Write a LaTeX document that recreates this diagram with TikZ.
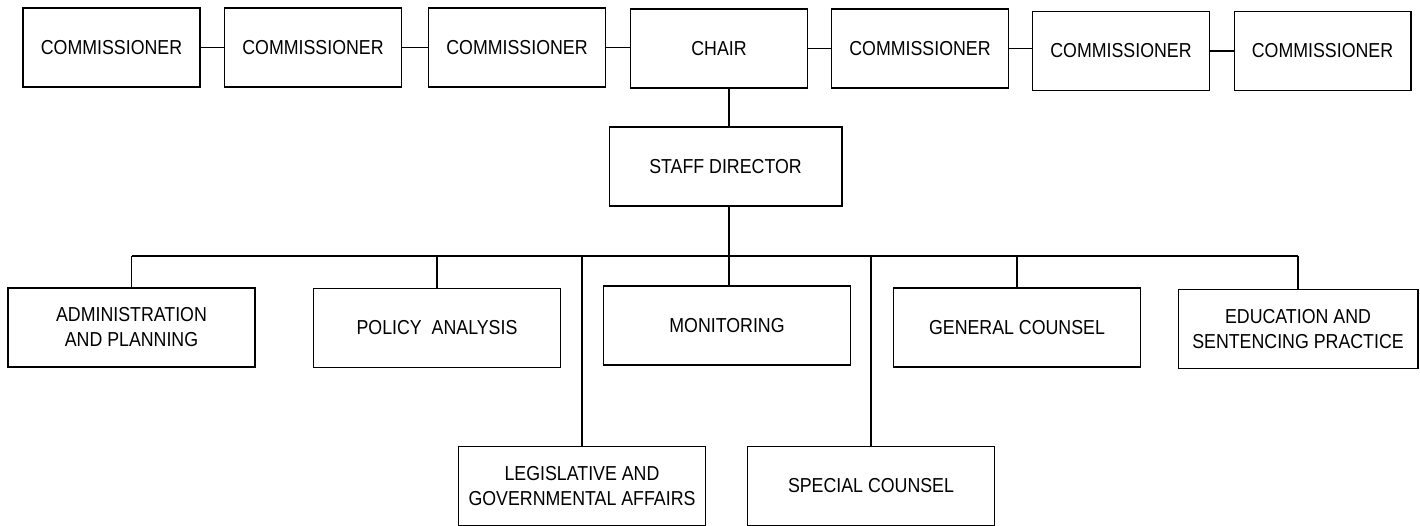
\documentclass[tikz,border=0pt]{standalone}
\usepackage{fontspec}
\setmainfont{Liberation Sans}[FakeStretch=0.88]
\begin{document}
\begin{tikzpicture}[
        x = 0.02cm, y = -0.02cm,
        post/.style = {
            draw, line width = 0.6pt,
            rectangle,
            inner sep = 0pt,
            text = black,
            minimum width = 3.54cm,
            minimum height = 1.58cm,
            align = center,
            font = \fontsize{11.5}{14.2}\selectfont,
        },
        office/.style = {
            post,
            minimum width = 4.94cm,
        },
        link/.style = {draw, line width = 0.6pt},
        tree/.style = {draw, line width = 1.1pt},
    ]
    \useasboundingbox (0,0) rectangle (1420,526);

    \node[post] (c1)    at ( 111.5, 47.5) {COMMISSIONER};
    \node[post] (c2)    at ( 313,   47.5) {COMMISSIONER};
    \node[post] (c3)    at ( 517,   47.5) {COMMISSIONER};
    \node[post] (chair) at ( 719,   48.5) {CHAIR};
    \node[post] (c5)    at ( 920,   48.5) {COMMISSIONER};
    \node[post] (c6)    at (1121,   51)   {COMMISSIONER};
    \node[post] (c7)    at (1322.5, 51)   {COMMISSIONER};

    \node[post,minimum width=4.66cm] (staff) at (725.5, 166.5) {STAFF DIRECTOR};

    \node[office] (admin)  at ( 131.5, 327.5) {ADMINISTRATION\\AND PLANNING};
    \node[office] (policy) at ( 437,   328)   {POLICY\ \ ANALYSIS};
    \node[office] (mon)    at ( 727,   325.5) {MONITORING};
    \node[office] (gen)    at (1017,   327.5) {GENERAL COUNSEL};
    \node[office,minimum width=4.8cm] (edu) at (1298, 329) {EDUCATION AND\\SENTENCING PRACTICE};

    \node[office] (leg)  at (582, 486) {LEGISLATIVE AND\\GOVERNMENTAL AFFAIRS};
    \node[office] (spec) at (871, 486) {SPECIAL COUNSEL};

    \coordinate (trunk) at (729, 256);

    \path[link] (c1.east) -- (c1.east -| c2.west)
        (c2.east) -- (c2.east -| c3.west)
        (c3.east) -- (c3.east -| chair.west)
        (chair.east) -- (chair.east -| c5.west)
        (c5.east) -- (c5.east -| c6.west)
        (c6.east) -- (c6.east -| c7.west);

    \path[tree] (trunk |- chair.south) -- (trunk |- staff.north)
        (trunk |- staff.south) -- (trunk) -- (trunk |- mon.north)
        (admin.north |- trunk) -- (edu.north |- trunk);
    \path[tree] (admin.north) -- (admin.north |- trunk)
        (policy.north) -- (policy.north |- trunk)
        (gen.north) -- (gen.north |- trunk)
        (edu.north) -- (edu.north |- trunk)
        (leg.north) -- (leg.north |- trunk)
        (spec.north) -- (spec.north |- trunk);
\end{tikzpicture}
\end{document}
